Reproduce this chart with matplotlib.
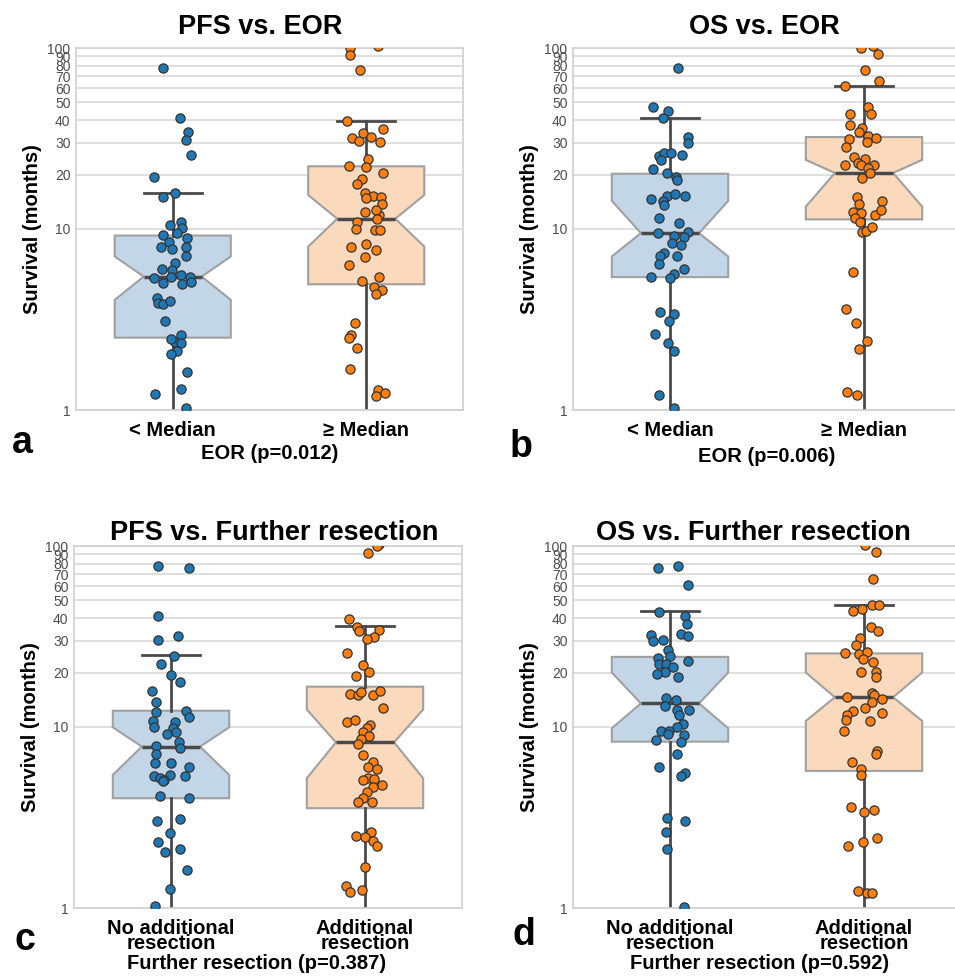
import numpy as np
import matplotlib
matplotlib.use("Agg")
import matplotlib.pyplot as plt
from matplotlib.ticker import NullLocator

plt.rcParams['font.family'] = ['Liberation Sans', 'DejaVu Sans']

# ---- data (survival in months) ----
# x jitter of each point is in category units
pfs_eor_low = [77.5, 41, 34.3, 31.1, 25.5, 19.5, 15.8, 15.1, 10.95, 10.5, 10.1, 9.25, 9.5, 8.9, 8.44,
               7.98, 8.0, 7.8, 7.05, 6.5, 6.05, 5.94, 5.35, 5.58, 5.42, 5.0, 4.97, 5.46, 5.12, 4.14,
               3.89, 3.86, 4.02, 3.12, 2.59, 2.38, 2.48, 2.34, 2.13, 2.04, 1.62, 1.31, 1.22, 1.02]
pfs_eor_low_jit = [-0.05, 0.038, 0.079, 0.067, 0.093, -0.097, 0.01, -0.05, 0.041, -0.016, 0.05, -0.05,
                   0.024, 0.076, -0.02, 0.069, -0.062, -0.003, 0.069, 0.01, -0.053, -0.003, -0.097,
                   0.041, 0.09, -0.05, 0.047, -0.01, 0.093, -0.083, -0.076, -0.052, -0.014, -0.041,
                   0.041, 0.014, -0.007, 0.041, 0.024, -0.007, 0.072, 0.041, -0.091, 0.067]
pfs_eor_high = [100, 102, 91, 75.9, 39.3, 33.9, 35.8, 31.8, 32.2, 30.5, 30.1, 24.5, 22.4, 21.9, 20.3,
                19.0, 17.7, 15.8, 15.3, 15.0, 14.8, 13.8, 11.9, 12.4, 12.7, 11.3, 11.0, 10.0, 9.9, 9.9,
                8.0, 8.25, 7.67, 6.98, 6.3, 5.4, 5.17, 4.77, 4.61, 4.36, 3.01, 2.60, 2.49, 2.19, 1.69,
                1.29, 1.24, 1.20]
pfs_eor_high_jit = [-0.084, 0.062, -0.084, -0.033, -0.098, -0.016, 0.084, -0.072, 0.026, -0.038, 0.069,
                    0.009, -0.09, -0.003, 0.088, -0.021, -0.047, -0.007, 0.036, 0.078, -0.003, 0.083,
                    0.065, -0.007, 0.048, 0.057, -0.047, -0.055, 0.043, 0.069, -0.081, -0.003, 0.048,
                    -0.009, -0.09, 0.066, -0.021, 0.04, 0.083, 0.048, -0.06, -0.078, -0.09, -0.047,
                    -0.084, 0.06, 0.097, 0.048]

os_eor_low = [77.5, 47.2, 45.0, 41.0, 32.2, 29.9, 25.4, 26.3, 26.3, 25.6, 24.2, 21.5, 20.4, 19.5, 18.7,
              14.6, 15.3, 15.6, 15.3, 14.2, 13.6, 11.5, 10.8, 9.49, 9.1, 9.57, 9.0, 8.35, 8.17, 7.41,
              7.05, 7.05, 6.42, 6.05, 5.46, 5.62, 5.39, 3.5, 3.4, 3.12, 2.63, 2.34, 2.12, 1.21, 1.02]
os_eor_low_jit = [0.043, -0.086, -0.009, -0.034, 0.091, 0.091, -0.055, -0.029, 0.005, 0.064, -0.047,
                  -0.09, -0.016, 0.031, 0.036, -0.098, -0.017, 0.028, 0.078, -0.038, -0.029, -0.055,
                  0.045, -0.064, 0.019, 0.091, 0.074, 0.01, 0.057, -0.029, -0.05, 0.036, -0.055, 0.071,
                  -0.098, 0.022, 0.002, -0.05, 0.022, -0.007, -0.076, -0.012, 0.019, -0.059, 0.022]
os_eor_high = [100, 102, 93, 75.9, 61.4, 65.4, 47.2, 43.4, 43.2, 37.4, 36.1, 34.2, 32.5, 31.8, 31.4,
               30.2, 28.4, 25.0, 24.3, 23.3, 22.5, 22.7, 22.5, 21.6, 20.4, 19.1, 15.1, 14.3, 13.8, 12.4,
               12.2, 12.0, 12.7, 11.5, 11.0, 9.57, 9.8, 10.3, 5.82, 3.62, 3.04, 2.42, 2.18, 1.25, 1.21]
os_eor_high_jit = [-0.017, 0.047, 0.072, 0.007, -0.097, 0.079, 0.021, 0.034, -0.071, -0.074, -0.01,
                   -0.026, 0.021, 0.064, -0.078, 0.014, -0.091, -0.053, 0.003, -0.031, -0.1, -0.017,
                   0.052, 0.022, 0.029, -0.01, -0.036, 0.095, -0.028, -0.057, -0.014, 0.055, 0.086,
                   -0.048, -0.022, -0.01, 0.012, 0.041, -0.057, -0.093, -0.04, 0.017, -0.028, -0.088,
                   -0.034]

pfs_res_no = [77.3, 76.0, 40.9, 31.9, 30.2, 24.6, 22.3, 19.5, 17.8, 15.9, 13.8, 12.1, 12.3, 11.4, 10.8,
              10.0, 10.6, 9.84, 9.35, 9.12, 8.3, 7.89, 7.63, 7.1, 6.36, 6.3, 6.04, 5.39, 5.26, 5.44,
              5.1, 5.39, 5.0, 4.16, 4.04, 3.04, 3.12, 2.61, 2.33, 2.12, 2.03, 1.63, 1.28, 1.02]
pfs_res_no_jit = [-0.069, 0.095, -0.069, 0.035, -0.069, 0.014, -0.052, 0.0, 0.048, -0.099, -0.078,
                  -0.078, 0.078, 0.092, -0.095, -0.087, 0.022, 0.01, 0.026, -0.021, 0.04, -0.078, 0.048,
                  -0.078, 0.0, -0.085, 0.095, -0.087, -0.059, -0.007, -0.035, 0.071, -0.042, -0.055,
                  0.092, -0.073, 0.048, -0.003, -0.069, 0.048, -0.029, 0.083, -0.003, -0.085]
pfs_res_yes = [102, 100, 91.5, 39.3, 35.7, 34.0, 34.3, 31.5, 30.6, 25.7, 22.0, 20.2, 19.2, 15.3, 15.0,
               15.0, 15.9, 15.7, 12.7, 10.7, 10.9, 10.2, 9.84, 9.42, 8.92, 8.55, 8.03, 7.01, 6.38, 5.99,
               5.84, 5.26, 5.1, 5.17, 4.79, 4.65, 4.36, 4.04, 3.87, 3.87, 2.51, 2.62, 2.46, 2.35, 2.19,
               1.68, 1.32, 1.22, 1.25]
pfs_res_yes_jit = [0.074, 0.061, 0.017, -0.083, -0.043, -0.031, 0.074, 0.047, 0.012, -0.095, -0.009,
                   0.022, -0.047, -0.078, -0.035, 0.043, 0.078, -0.019, 0.095, -0.095, -0.052, 0.026,
                   0.009, -0.009, 0.021, -0.022, -0.035, -0.012, 0.04, 0.017, 0.061, 0.017, -0.009,
                   0.048, 0.087, 0.04, 0.009, -0.009, -0.038, 0.035, -0.048, 0.031, 0.0, 0.04, 0.064,
                   0.0, -0.099, -0.078, -0.017]

os_res_no = [76.0, 77.6, 61.2, 43.3, 40.9, 37.3, 32.4, 29.8, 30.2, 32.6, 31.9, 26.6, 24.7, 24.1, 23.1,
             22.2, 22.4, 21.5, 20.2, 19.6, 18.8, 14.4, 14.1, 13.1, 12.4, 12.4, 11.6, 10.4, 9.96, 9.55,
             9.55, 9.15, 8.48, 9.03, 8.3, 7.1, 5.99, 5.55, 5.37, 3.13, 3.03, 2.62, 2.12, 1.01]
os_res_no_jit = [-0.063, 0.043, 0.091, -0.055, 0.077, 0.086, -0.098, -0.086, -0.034, 0.057, 0.094,
                 -0.009, 0.002, -0.063, 0.091, -0.058, -0.021, 0.014, -0.026, -0.069, 0.039, -0.021,
                 0.031, -0.026, 0.036, 0.096, 0.048, 0.065, 0.034, -0.046, -0.003, -0.009, -0.072,
                 0.074, 0.057, 0.036, -0.055, 0.077, 0.057, -0.015, 0.077, -0.021, -0.015, 0.07]
os_res_yes = [101, 92.7, 65.5, 47.1, 47.1, 45.1, 43.6, 35.7, 34.0, 31.2, 28.3, 25.5, 25.3, 25.8, 23.9,
              22.9, 20.2, 20.2, 18.9, 15.5, 15.1, 14.7, 14.3, 13.8, 12.7, 12.3, 12.0, 11.6, 10.9, 10.8,
              9.55, 7.4, 7.1, 6.38, 5.84, 5.44, 3.61, 3.37, 3.49, 2.19, 2.33, 2.43, 1.24, 1.21, 1.21]
os_res_yes_jit = [0.005, 0.063, 0.046, 0.043, 0.077, -0.009, -0.057, 0.034, 0.074, -0.021, -0.043,
                  -0.098, -0.026, 0.014, -0.005, 0.046, -0.014, 0.06, 0.063, 0.039, 0.051, -0.086,
                  0.094, 0.043, 0.003, -0.055, 0.091, -0.086, -0.094, 0.031, -0.103, 0.069, 0.063,
                  -0.063, -0.014, -0.014, -0.069, 0.0, 0.051, -0.081, -0.003, 0.069, -0.029, 0.017,
                  0.043]

# box stats: q1, notch low, median, notch high, q3, upper whisker
# (lower whiskers all run below the 1-month floor of the axis)
box_pfs_eor = [[2.51, 4.06, 5.46, 7.05, 9.2, 15.9], [4.95, 8.0, 11.4, 15.4, 22.2, 39.3]]
box_os_eor = [[5.42, 7.05, 9.49, 14.3, 20.2, 41.0], [11.3, 13.3, 20.4, 24.1, 32.2, 61.4]]
box_pfs_res = [[4.04, 5.44, 7.79, 9.96, 12.3, 24.9], [3.56, 5.21, 8.23, 12.5, 16.7, 36.2]]
box_os_res = [[8.3, 9.84, 13.5, 20.0, 24.4, 43.6], [5.72, 10.8, 14.6, 20.0, 25.5, 47.1]]
whisker_floor = 0.8

eor_groups = ['< Median', '≥ Median']
res_groups = ['No additional\nresection', 'Additional\nresection']
titles = ['PFS vs. EOR', 'OS vs. EOR', 'PFS vs. Further resection', 'OS vs. Further resection']
xlabels = ['EOR (p=0.012)', 'EOR (p=0.006)', 'Further resection (p=0.387)', 'Further resection (p=0.592)']
panel_letters = ['a', 'b', 'c', 'd']
y_ticks = [1, 10, 20, 30, 40, 50, 60, 70, 80, 90, 100]

point_colors = ['#1f77b4', '#ff7f0e']
box_colors = [(0.76, 0.84, 0.91), (0.98, 0.85, 0.74)]
dark = '#4a4a4a'


def draw_panel(ax, groups, points, boxes, title, xlabel, title_x, title_pad, label_xy):
    # boxes first, built from the stats
    stats = []
    for name, b in zip(groups, boxes):
        q1, cilo, med, cihi, q3, whishi = b
        stats.append(dict(label=name, q1=q1, cilo=cilo, med=med, cihi=cihi, q3=q3,
                          whislo=whisker_floor, whishi=whishi, fliers=[]))
    bp = ax.bxp(stats, positions=[0, 1], widths=0.6, shownotches=True, patch_artist=True,
                showfliers=False, capwidths=0.3,
                boxprops=dict(edgecolor='#a0a0a0', linewidth=1.5),
                medianprops=dict(color=dark, linewidth=2.5),
                whiskerprops=dict(color=dark, linewidth=2),
                capprops=dict(color=dark, linewidth=2))
    for patch, col in zip(bp['boxes'], box_colors):
        patch.set_facecolor(col)

    # strip points on top
    for i, (vals, jit) in enumerate(points):
        ax.scatter(i + np.array(jit), vals, s=44, color=point_colors[i],
                   edgecolors='#333333', linewidths=0.9, zorder=3)

    ax.set_yscale('log')
    ax.set_ylim(1, 100)
    ax.set_xlim(-0.5, 1.5)
    ax.set_yticks(y_ticks)
    ax.set_yticklabels([str(t) for t in y_ticks])
    ax.yaxis.set_minor_locator(NullLocator())
    ax.tick_params(axis='y', length=0, pad=4, labelsize=10, labelcolor='#4d4d4d')
    for lbl in ax.get_yticklabels():
        lbl.set_fontfamily(['Liberation Sans Narrow', 'Liberation Sans'])

    ax.set_xticks([0, 1])
    ax.set_xticklabels(groups, fontsize=14.5, fontweight='bold', linespacing=0.72)
    ax.tick_params(axis='x', length=0, pad=8)

    ax.grid(axis='y', color='#d9d9d9', linewidth=1.2)
    ax.set_axisbelow(True)
    for sp in ax.spines.values():
        sp.set_color('#d0d0d0')
        sp.set_linewidth(1.2)

    ax.set_title(title, fontsize=19.5, fontweight='bold', x=title_x, pad=title_pad)
    ax.set_ylabel('Survival (months)', fontsize=14.5, fontweight='bold', labelpad=4)
    ax.set_xlabel(xlabel, fontsize=14.5, fontweight='bold')
    ax.xaxis.set_label_coords(*label_xy)


W, H = 955, 977
fig = plt.figure(figsize=(W / 100, H / 100), dpi=100)

# axes boxes in pixels: left, top, right, bottom
frames = [(76, 48, 463, 410), (573, 48, 961, 410), (74, 546, 462, 908), (573, 546, 961, 908)]
axes = []
for (l, t, r, b) in frames:
    axes.append(fig.add_axes([l / W, 1 - b / H, (r - l) / W, (b - t) / H]))

draw_panel(axes[0], eor_groups, [(pfs_eor_low, pfs_eor_low_jit), (pfs_eor_high, pfs_eor_high_jit)],
           box_pfs_eor, titles[0], xlabels[0], 0.475, 10, (0.5, -0.095))
draw_panel(axes[1], eor_groups, [(os_eor_low, os_eor_low_jit), (os_eor_high, os_eor_high_jit)],
           box_os_eor, titles[1], xlabels[1], 0.494, 10, (0.5, -0.103))
draw_panel(axes[2], res_groups, [(pfs_res_no, pfs_res_no_jit), (pfs_res_yes, pfs_res_yes_jit)],
           box_pfs_res, titles[2], xlabels[2], 0.515, 4, (0.47, -0.128))
draw_panel(axes[3], res_groups, [(os_res_no, os_res_no_jit), (os_res_yes, os_res_yes_jit)],
           box_os_res, titles[3], xlabels[3], 0.466, 4, (0.48, -0.128))

# panel letters
letter_pos = [(12, 453), (510, 457), (15, 950), (512, 945)]
for letter, (x, y) in zip(panel_letters, letter_pos):
    fig.text(x / W, 1 - y / H, letter, fontsize=27, fontweight='bold', va='baseline', ha='left')

fig.savefig('out.png', dpi=100)
